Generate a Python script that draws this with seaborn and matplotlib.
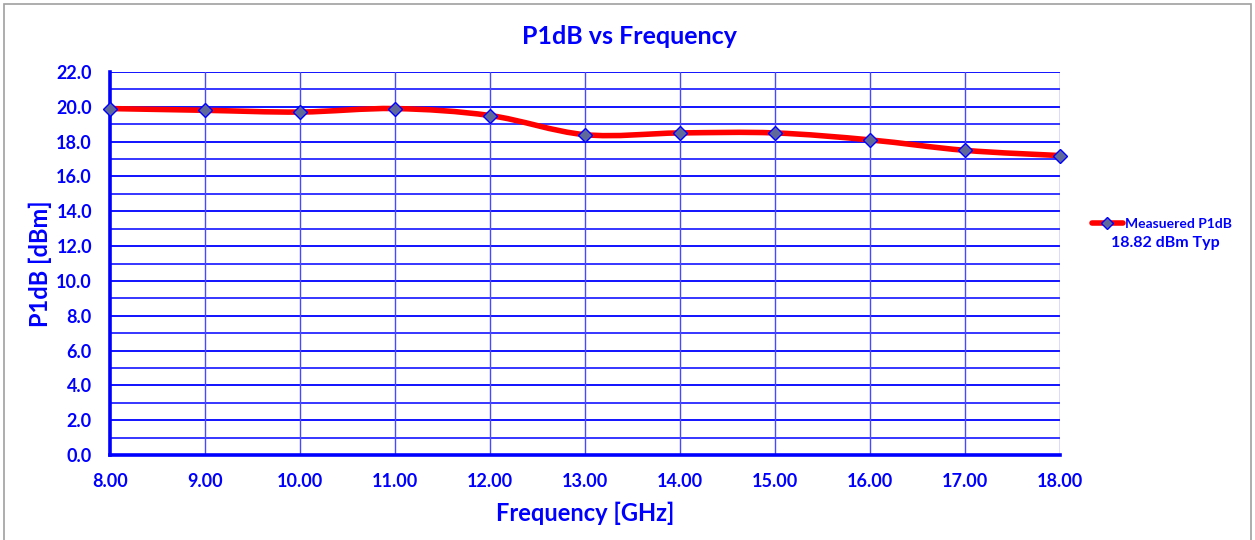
import numpy as np
import pandas as pd
import matplotlib
matplotlib.use("Agg")
import matplotlib.pyplot as plt
from matplotlib.path import Path
from matplotlib.patches import PathPatch, Rectangle
from matplotlib.ticker import MultipleLocator, FormatStrFormatter
import seaborn as sns

# data
freq_ghz = [8, 9, 10, 11, 12, 13, 14, 15, 16, 17, 18]
p1db_dbm = [19.9, 19.8, 19.7, 19.9, 19.5, 18.4, 18.5, 18.5, 18.1, 17.5, 17.2]
series_name = "Measuered P1dB"
typ_note = "18.82 dBm Typ"

BLUE = "#0000ff"
FONT = "Lato"

sns.set_theme(style="white")
plt.rcParams["font.family"] = [FONT, "DejaVu Sans"]
plt.rcParams["font.weight"] = "bold"

df = pd.DataFrame({"Frequency": freq_ghz, "P1dB": p1db_dbm})

fig = plt.figure(figsize=(12.55, 5.4), dpi=100)
ax = fig.add_axes([110 / 1255, 85 / 540, 950 / 1255, 383 / 540])

# gray frame around the whole chart
fig.patches.append(Rectangle((4 / 1255, -0.01), 1247 / 1255, 1.0 - 4 / 540 + 0.01,
                             transform=fig.transFigure, fill=False,
                             edgecolor="#a0a0a0", linewidth=1.2))


def smooth_path(x, y):
    # Excel-style smoothed line: cubic bezier with control points from neighbours
    pts = np.column_stack([x, y]).astype(float)
    n = len(pts)
    verts = [pts[0]]
    codes = [Path.MOVETO]
    for i in range(n - 1):
        p0 = pts[i - 1] if i > 0 else pts[i]
        p1 = pts[i]
        p2 = pts[i + 1]
        p3 = pts[i + 2] if i + 2 < n else pts[i + 1]
        c1 = p1 + (p2 - p0) / 6.0
        c2 = p2 - (p3 - p1) / 6.0
        verts += [c1, c2, p2]
        codes += [Path.CURVE4] * 3
    return Path(verts, codes)


curve = PathPatch(smooth_path(df["Frequency"], df["P1dB"]), fill=False,
                  edgecolor="#ff0000", linewidth=4, zorder=3,
                  capstyle="round", joinstyle="round")
curve.set_clip_on(False)
ax.add_patch(curve)

sns.lineplot(data=df, x="Frequency", y="P1dB", ax=ax, linestyle="none",
             marker="D", markersize=7.5, markerfacecolor="#5f6a9a",
             markeredgecolor=BLUE, markeredgewidth=1.0, zorder=4, legend=False,
             clip_on=False)

ax.set_xlim(8, 18)
ax.set_ylim(0, 22)
ax.xaxis.set_major_locator(MultipleLocator(1))
ax.xaxis.set_minor_locator(MultipleLocator(0.2))
ax.yaxis.set_major_locator(MultipleLocator(2))
ax.yaxis.set_minor_locator(MultipleLocator(1))
ax.xaxis.set_major_formatter(FormatStrFormatter("%.2f"))
ax.yaxis.set_major_formatter(FormatStrFormatter("%.1f"))

# grid
for yv in np.arange(1, 23, 1):
    ax.axhline(yv, color=BLUE, linewidth=1.3 if yv % 2 == 0 else 1.1, zorder=1)
for xv in freq_ghz[1:]:
    ax.axvline(xv, color="#4848ff", linewidth=1.0, zorder=1)

for side in ["top", "right"]:
    ax.spines[side].set_visible(False)
for side in ["left", "bottom"]:
    ax.spines[side].set_color(BLUE)
    ax.spines[side].set_linewidth(2.6)

ax.tick_params(axis="both", which="major", direction="out", length=6, width=2.6,
               color=BLUE, labelcolor=BLUE, labelsize=13, pad=7)
ax.tick_params(axis="x", which="minor", direction="out", length=4, width=2.6,
               color=BLUE)
ax.tick_params(axis="y", which="minor", length=0)
for lbl in ax.get_xticklabels() + ax.get_yticklabels():
    lbl.set_fontweight("bold")

ax.set_xlabel("Frequency [GHz]", color=BLUE, fontsize=17, fontweight="bold",
              labelpad=8)
ax.set_ylabel("P1dB [dBm]", color=BLUE, fontsize=17, fontweight="bold")
ax.yaxis.set_label_coords(-58 / 950, 0.5)
fig.text(630 / 1255, 1 - 36 / 540, "P1dB vs Frequency", color=BLUE,
         fontsize=18, fontweight="bold", ha="center", va="center")

# legend
handle = plt.Line2D([], [], color="#ff0000", linewidth=4, marker="D",
                    markersize=6, markerfacecolor="#5f6a9a",
                    markeredgecolor=BLUE)
leg = fig.legend([handle], [series_name], loc="center left",
                 bbox_to_anchor=(1092 / 1255, 1 - 224 / 540), frameon=False,
                 fontsize=10, handlelength=2.2, handletextpad=0.2,
                 borderpad=0, borderaxespad=0)
for t in leg.get_texts():
    t.set_color(BLUE)
    t.set_fontweight("bold")
fig.text(1165 / 1255, 1 - 243 / 540, typ_note, color=BLUE, fontsize=11.5,
         fontweight="bold", ha="center", va="center")

fig.savefig("out.png", dpi=100)
